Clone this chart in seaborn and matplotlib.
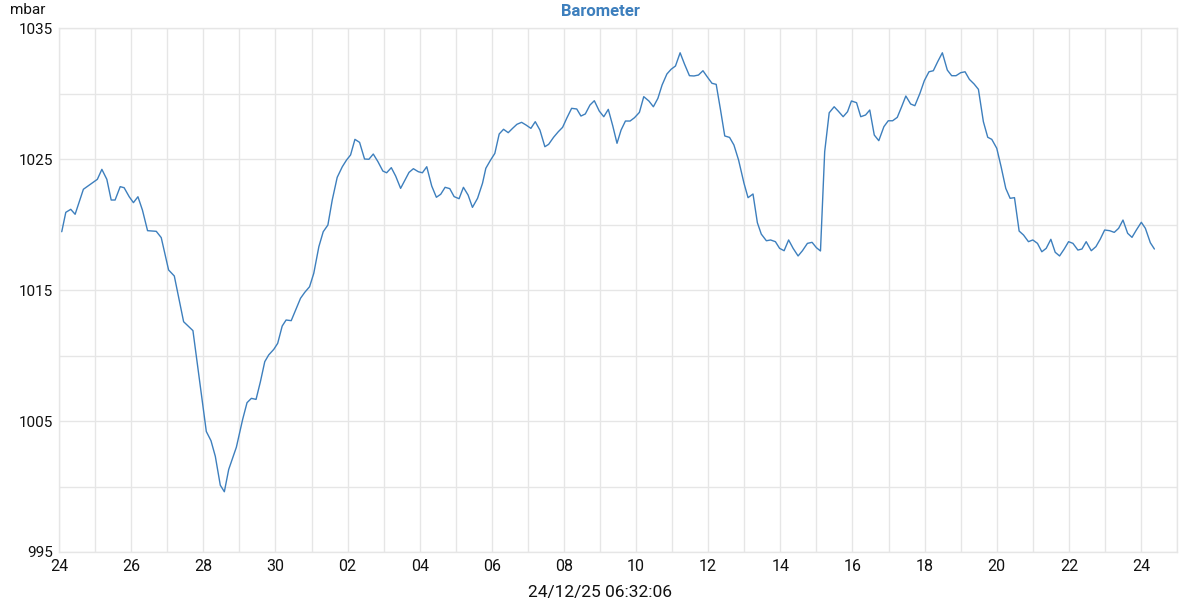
import pandas as pd
import matplotlib.pyplot as plt
import matplotlib.dates as mdates
import seaborn as sns

# hours since 2024-11-24 00:00 and barometer readings (mbar)
hours = [
    1.8, 4.5, 7.8, 10.7, 16.2, 25.5, 28.5, 31.8, 34.7, 37.3, 40.7, 43.3, 46.7, 49.5,
    52.5, 55.5, 58.9, 64.7, 68.0, 72.9, 76.7, 82.9, 89.1, 98.0, 101.1, 104.0, 107.3,
    110.0, 112.9, 118.0, 122.2, 125.1, 128.0, 131.1, 134.0, 136.9, 139.5, 142.9,
    145.5, 148.5, 151.1, 154.5, 160.7, 163.5, 166.7, 169.5, 172.9, 175.8, 178.9,
    181.8, 185.1, 188.5, 191.3, 194.0, 196.9, 200.0, 203.3, 206.2, 209.1, 212.2,
    215.5, 218.0, 221.1, 224.0, 227.3, 230.0, 232.9, 235.8, 239.1, 241.8, 244.7,
    248.0, 251.1, 254.0, 256.9, 260.0, 262.9, 266.2, 269.1, 272.2, 275.1, 278.5,
    281.8, 284.0, 286.9, 290.0, 292.9, 295.8, 298.9, 301.8, 304.7, 307.8, 310.7,
    314.0, 316.9, 320.0, 323.3, 325.8, 329.1, 332.2, 335.1, 338.0, 341.1, 344.5,
    347.3, 350.2, 353.3, 356.2, 359.5, 362.5, 365.5, 368.5, 371.3, 374.0, 376.9,
    380.0, 382.9, 386.2, 389.1, 392.5, 395.5, 398.5, 401.3, 404.5, 407.3, 410.2,
    413.3, 416.2, 419.5, 422.5, 425.5, 428.5, 431.3, 434.5, 437.3, 440.2, 443.0,
    446.2, 449.1, 452.2, 455.8, 458.5, 461.8, 464.7, 467.3, 470.7, 473.5, 476.7,
    479.5, 482.5, 485.5, 488.5, 491.8, 494.7, 498.0, 501.1, 504.0, 506.7, 509.5,
    512.5, 515.8, 518.5, 521.8, 524.7, 527.3, 530.7, 533.5, 536.7, 539.5, 542.5,
    545.5, 548.9, 551.8, 554.7, 557.8, 560.7, 563.5, 566.7, 569.5, 572.9, 575.8,
    578.9, 581.8, 584.7, 587.8, 591.1, 594.0, 596.9, 600.0, 602.9, 605.8, 608.9,
    611.8, 615.1, 618.0, 620.7, 624.0, 626.9, 630.0, 632.9, 635.8, 638.9, 641.8,
    645.1, 648.0, 651.1, 654.0, 656.9, 660.0, 662.9, 665.8, 668.9, 671.8, 674.7,
    678.0, 680.7, 683.5, 686.9, 690.0, 692.9, 695.8, 699.1, 702.2, 705.1, 708.0,
    711.1, 714.0, 716.9, 720.2, 722.9, 726.2, 728.9,
]
mbar = [
    1019.45, 1020.93, 1021.16, 1020.78, 1022.69, 1023.45, 1024.21, 1023.45, 1021.87,
    1021.87, 1022.89, 1022.81, 1022.12, 1021.67, 1022.12, 1021.10, 1019.53, 1019.48,
    1019.00, 1016.53, 1016.07, 1012.58, 1011.90, 1004.20, 1003.50, 1002.30, 1000.10,
    999.60, 1001.30, 1003.00, 1005.13, 1006.40, 1006.73, 1006.65, 1008.00, 1009.53,
    1010.04, 1010.47, 1010.93, 1012.25, 1012.71, 1012.66, 1014.37, 1014.82, 1015.25,
    1016.27, 1018.31, 1019.45, 1019.96, 1021.87, 1023.60, 1024.41, 1024.92, 1025.31,
    1026.50, 1026.27, 1025.00, 1024.98, 1025.38, 1024.80, 1024.08, 1023.95, 1024.34,
    1023.70, 1022.76, 1023.34, 1023.98, 1024.26, 1024.03, 1023.95, 1024.41, 1022.94,
    1022.08, 1022.31, 1022.84, 1022.74, 1022.13, 1021.97, 1022.84, 1022.25, 1021.31,
    1022.00, 1023.15, 1024.29, 1024.87, 1025.43, 1026.91, 1027.27, 1027.01, 1027.34,
    1027.65, 1027.80, 1027.60, 1027.34, 1027.85, 1027.21, 1025.94, 1026.12, 1026.66,
    1027.08, 1027.42, 1028.15, 1028.87, 1028.82, 1028.28, 1028.44, 1029.12, 1029.45,
    1028.66, 1028.23, 1028.79, 1027.52, 1026.20, 1027.21, 1027.90, 1027.90, 1028.15,
    1028.56, 1029.76, 1029.43, 1028.99, 1029.63, 1030.65, 1031.49, 1031.85, 1032.10,
    1033.11, 1032.25, 1031.36, 1031.34, 1031.41, 1031.74, 1031.28, 1030.78, 1030.70,
    1028.74, 1026.76, 1026.65, 1026.07, 1024.92, 1023.15, 1022.05, 1022.33, 1020.14,
    1019.27, 1018.76, 1018.82, 1018.69, 1018.18, 1018.00, 1018.82, 1018.18, 1017.60,
    1018.00, 1018.56, 1018.64, 1018.23, 1017.98, 1025.56, 1028.53, 1028.99, 1028.66,
    1028.23, 1028.61, 1029.43, 1029.30, 1028.23, 1028.36, 1028.74, 1026.83, 1026.40,
    1027.47, 1027.92, 1027.92, 1028.18, 1028.99, 1029.81, 1029.20, 1029.07, 1030.02,
    1030.98, 1031.66, 1031.74, 1032.43, 1033.11, 1031.79, 1031.36, 1031.36, 1031.59,
    1031.66, 1031.08, 1030.73, 1030.32, 1027.85, 1026.66, 1026.50, 1025.82, 1024.41,
    1022.76, 1022.00, 1022.05, 1019.50, 1019.20, 1018.69, 1018.82, 1018.56, 1017.92,
    1018.18, 1018.87, 1017.88, 1017.60, 1018.13, 1018.69, 1018.56, 1018.05, 1018.13,
    1018.69, 1018.00, 1018.31, 1018.89, 1019.58, 1019.53, 1019.40, 1019.71, 1020.34,
    1019.33, 1019.02, 1019.58, 1020.17, 1019.71, 1018.61, 1018.13,
]

start = pd.Timestamp('2024-11-24')
end = pd.Timestamp('2024-12-25')
times = start + pd.to_timedelta(hours, unit='h')

blue = '#3d7fbd'
grid = '#e6e6e6'

sns.set_theme(style='white')
plt.rcParams['font.family'] = ['Roboto', 'DejaVu Sans']

fig = plt.figure(figsize=(12, 6), dpi=100)
ax = fig.add_axes([0.0492, 0.08, 0.9317, 0.8733])

sns.lineplot(x=times, y=mbar, ax=ax, color=blue, linewidth=1.0)

ax.set_xlim(start, end)
ax.set_ylim(995, 1035)

ax.set_xticks(pd.date_range(start, end, freq='2D'))
ax.set_xticks(pd.date_range(start, end, freq='1D'), minor=True)
ax.xaxis.set_major_formatter(mdates.DateFormatter('%d'))
ax.set_yticks(range(995, 1036, 10))
ax.set_yticks(range(1000, 1035, 10), minor=True)

ax.grid(True, which='both', color=grid, linewidth=1.0)
for s in ax.spines.values():
    s.set_color(grid)
    s.set_linewidth(1.0)
ax.tick_params(which='both', length=0)
ax.tick_params(axis='x', pad=5, labelsize=11.5, labelcolor='#111111')
ax.tick_params(axis='y', pad=4, labelsize=11, labelcolor='#111111')
ax.set_xlabel('')
ax.set_ylabel('')

fig.text(0.008, 0.983, 'mbar', fontsize=11, color='#111111', va='center')
fig.text(0.5, 0.98, 'Barometer', fontsize=12, color=blue, fontweight='bold',
         ha='center', va='center')
fig.text(0.5, 0.013, '24/12/25 06:32:06', fontsize=12.5, color='#111111',
         ha='center', va='center')

fig.savefig('out.png', dpi=100)
